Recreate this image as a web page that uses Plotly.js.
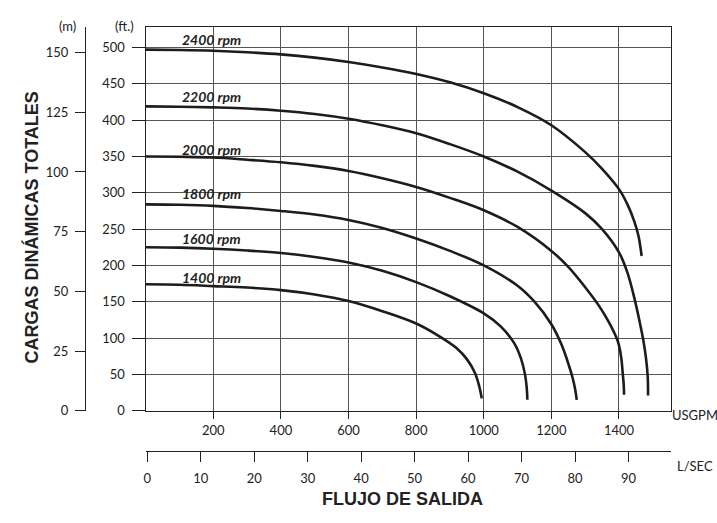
<!DOCTYPE html>
<html>
<head>
<meta charset="utf-8">
<script src="https://cdn.plot.ly/plotly-3.0.1.min.js"></script>
<style>html,body{margin:0;padding:0;background:#fff}#chart{width:717px;height:523px}</style>
</head>
<body>
<div id="chart"></div>
<script>
// Flow in USGPM, head in ft, for each pump speed
const speeds = ["2400 rpm", "2200 rpm", "2000 rpm", "1800 rpm", "1600 rpm", "1400 rpm"];
const gpm2400 = [0, 100, 200, 300, 400, 500, 600, 700, 800, 900, 1000, 1100, 1200, 1300, 1350, 1400, 1425, 1445, 1458, 1467];
const ft2400  = [497, 496.5, 495.5, 493.5, 490.5, 486, 480, 472.5, 463.5, 452, 437, 418, 393, 356, 333, 305, 284, 261, 240, 213];
const gpm2200 = [0, 100, 200, 300, 400, 500, 600, 700, 800, 900, 1000, 1100, 1200, 1300, 1350, 1400, 1425, 1445, 1460, 1472, 1480, 1485, 1486];
const ft2200  = [419, 418.5, 417.5, 416, 413, 408.5, 402, 393, 382, 367, 350, 329, 303, 272, 250, 218, 190, 156, 125, 97, 72, 47, 21];
const gpm2000 = [0, 100, 200, 300, 400, 500, 600, 700, 800, 900, 1000, 1100, 1200, 1250, 1300, 1340, 1370, 1393, 1400, 1407, 1411, 1414, 1415];
const ft2000  = [350, 349.5, 348.5, 345.5, 342, 337, 330, 320, 308, 293, 276, 253, 220, 198, 170, 145, 122, 100, 90, 72, 52, 36, 22];
const gpm1800 = [0, 100, 200, 300, 400, 500, 600, 700, 800, 900, 1000, 1100, 1150, 1200, 1230, 1250, 1263, 1271, 1275];
const ft1800  = [284, 283.5, 282, 279, 275, 270, 262.5, 251.5, 237, 220, 200, 172, 150, 119, 91, 65, 45, 28, 15];
const gpm1600 = [0, 100, 200, 300, 400, 500, 600, 700, 800, 900, 1000, 1050, 1090, 1110, 1122, 1127, 1129];
const ft1600  = [225, 224.5, 223, 220.5, 217, 211.5, 204, 192.5, 177, 157.5, 134, 116, 93, 72, 50, 32, 15];
const gpm1400 = [0, 100, 200, 300, 400, 500, 600, 700, 800, 870, 920, 950, 974, 987, 994];
const ft1400  = [174, 173.3, 171.5, 169.5, 166, 160, 151, 137, 120, 102, 86, 71, 52, 33, 17];
const labelY  = [511, 432, 360, 299, 237, 184];

const gpmTicks = [200, 400, 600, 800, 1000, 1200, 1400];
const ftTicks  = [0, 50, 100, 150, 200, 250, 300, 350, 400, 450, 500];
const mTicks   = [0, 25, 50, 75, 100, 125, 150];
const lsTicks  = [0, 10, 20, 30, 40, 50, 60, 70, 80, 90];

const W = 717, H = 523;
const px = v => v / W, py = v => 1 - v / H;

const series = [[gpm2400, ft2400], [gpm2200, ft2200], [gpm2000, ft2000], [gpm1800, ft1800], [gpm1600, ft1600], [gpm1400, ft1400]];
const traces = series.map((s, i) => ({
  x: s[0], y: s[1], type: 'scatter', mode: 'lines', name: speeds[i],
  line: {color: '#1c1c1c', width: 2.6, shape: 'spline', smoothing: 1},
  hoverinfo: 'skip', showlegend: false
}));
// empty traces that register the secondary axes
traces.push({x: [], y: [], type: 'scatter', mode: 'lines', xaxis: 'x2', yaxis: 'y', showlegend: false, hoverinfo: 'skip'});
traces.push({x: [], y: [], type: 'scatter', mode: 'lines', xaxis: 'x', yaxis: 'y2', showlegend: false, hoverinfo: 'skip'});

const tf = {family: 'Lato, "Open Sans", sans-serif', size: 13, color: '#222'};
const ann = speeds.map((s, i) => ({
  x: 195, y: labelY[i], xref: 'x', yref: 'y', text: s, showarrow: false,
  font: {family: 'Lato, "Open Sans", sans-serif', size: 14, color: '#222', weight: 'bold', style: 'italic'}
}));
const paperText = (t, x, y, opts) => Object.assign({
  text: t, x: px(x), y: py(y), xref: 'paper', yref: 'paper', showarrow: false, font: tf
}, opts || {});
ann.push(paperText('USGPM', 670, 425, {xanchor: 'left'}));
ann.push(paperText('L/SEC', 675, 476, {xanchor: 'left'}));
ann.push(paperText('(m)', 57, 16));
ann.push(paperText('(ft.)', 113, 16));
ann.push(paperText('FLUJO DE SALIDA', 402, 511, {font: {family: 'Liberation Sans, Arial, sans-serif', size: 18, color: '#222', weight: 'bold'}}));
ann.push(paperText('CARGAS DINÁMICAS TOTALES', 18.5, 227.5, {textangle: -90, font: {family: 'Liberation Sans, Arial, sans-serif', size: 18, color: '#222', weight: 'bold'}}));

const layout = {
  width: W, height: H,
  margin: {l: 0, r: 0, t: 0, b: 0},
  paper_bgcolor: '#fff', plot_bgcolor: 'rgba(0,0,0,0)',
  font: tf,
  showlegend: false,
  xaxis: {
    domain: [px(145.7), px(670.7)], range: [0, 1553],
    tickvals: gpmTicks, ticktext: gpmTicks.map(String),
    ticks: 'outside', ticklen: 7, tickcolor: '#222', tickwidth: 1,
    showgrid: true, gridcolor: '#555', gridwidth: 1,
    showline: true, mirror: true, linecolor: '#222', linewidth: 1.2,
    zeroline: false, tickfont: tf, fixedrange: true
  },
  xaxis2: {
    overlaying: 'x', anchor: 'free', position: py(451), side: 'bottom',
    range: [-0.3, 97.9],
    tickvals: lsTicks, ticktext: lsTicks.map(String),
    ticks: 'outside', ticklen: 10, tickcolor: '#222', tickwidth: 1,
    showgrid: false, showline: true, linecolor: '#222', linewidth: 1,
    zeroline: false, tickfont: tf, ticklabelstandoff: 5, fixedrange: true
  },
  yaxis: {
    domain: [py(410.7), py(27.3)], range: [0, 527.8],
    tickvals: ftTicks, ticktext: ftTicks.map(String),
    ticks: 'outside', ticklen: 13, tickcolor: '#222', tickwidth: 1,
    showgrid: true, gridcolor: '#555', gridwidth: 1,
    showline: true, mirror: true, linecolor: '#222', linewidth: 1.2,
    zeroline: false, tickfont: tf, ticklabelstandoff: 4, fixedrange: true
  },
  yaxis2: {
    overlaying: 'y', anchor: 'free', position: px(85), side: 'left',
    range: [0, 160.6],
    tickvals: mTicks, ticktext: mTicks.map(String),
    ticks: 'outside', ticklen: 10, tickcolor: '#222', tickwidth: 1,
    showgrid: false, showline: true, linecolor: '#222', linewidth: 1,
    zeroline: false, tickfont: tf, ticklabelstandoff: 4, fixedrange: true
  },
  annotations: ann
};

Plotly.newPlot('chart', traces, layout, {staticPlot: true, displayModeBar: false});
</script>
</body>
</html>
